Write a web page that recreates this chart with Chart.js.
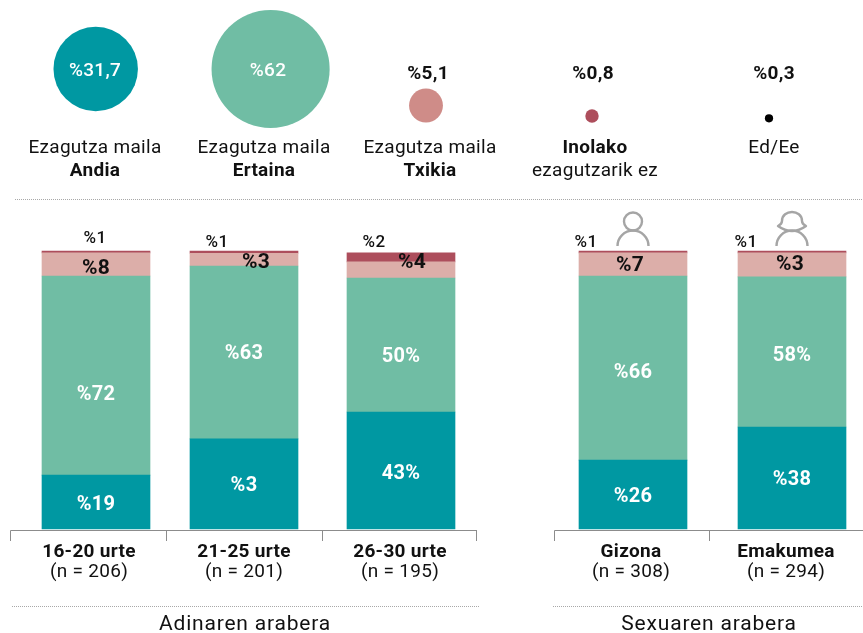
<!DOCTYPE html>
<html>
    <head>
        <meta charset="utf-8">
        <script src="https://cdn.jsdelivr.net/npm/chart.js@4"></script>
        <style>
            html, body { margin: 0; padding: 0; background: #fff; }
            canvas { display: block; }
        </style>
    </head>
    <body>
        <canvas id="myChart" width="863" height="633"></canvas>
    </body>
    <script type="text/javascript">
        // data
        var categories = ['16-20 urte', '21-25 urte', '26-30 urte', 'Gizona', 'Emakumea'];
        var sampleLabels = ['(n = 206)', '(n = 201)', '(n = 195)', '(n = 308)', '(n = 294)'];
        var andia = [19.4, 32.4, 42.1, 24.8, 36.7];
        var ertaina = [71.6, 62.2, 48.2, 66.2, 54];
        var txikia = [8.3, 4.6, 5.8, 8.3, 8.6];
        var inolako = [0.7, 0.8, 3.2, 0.7, 0.7];
        // printed labels, as they stand in the original
        var andiaLabels = ['%19', '%3', '43%', '%26', '%38'];
        var ertainaLabels = ['%72', '%63', '50%', '%66', '58%'];
        var txikiaLabels = ['%8', '%3', '%4', '%7', '%3'];
        var inolakoLabels = ['%1', '%1', '%2', '%1', '%1'];
        var totalShares = [31.7, 62, 5.1, 0.8, 0.3];
        var totalLabels = ['%31,7', '%62', '%5,1', '%0,8', '%0,3'];

        // layout
        var barCentres = [96, 244, 401, 633, 792];
        var bubbleX = [95.7, 270.6, 426, 592, 769];
        var bubbleY = [69, 69, 105.5, 116, 118.3];
        var pxPerPct = 2.78;
        var baseY = 529;
        var FONT = 'Roboto, sans-serif';
        var TEAL = '#0098a2', GREEN = '#70bda4', PINK = '#dcaea9', RED = '#ad4e5c';
        var GREY = '#8c8c8c';

        function barData(values) {
            return values.map(function (v, i) { return { x: barCentres[i], y: v }; });
        }

        function barSet(label, values, colour) {
            return {
                type: 'bar', label: label, data: barData(values), backgroundColor: colour,
                barThickness: 108, order: 2
            };
        }

        function text(ctx, str, x, y, size, weight, colour, spacing) {
            ctx.font = weight + ' ' + size + 'px ' + FONT;
            ctx.letterSpacing = (spacing === undefined ? 0.3 : spacing) + 'px';
            ctx.fillStyle = colour;
            ctx.textAlign = 'center';
            ctx.textBaseline = 'middle';
            ctx.fillText(str, x, y + 1);
        }

        function dotted(ctx, x1, x2, y) {
            ctx.save();
            ctx.strokeStyle = '#a8a8a8';
            ctx.lineWidth = 1;
            ctx.setLineDash([1, 1]);
            ctx.beginPath();
            ctx.moveTo(x1, y + 0.5);
            ctx.lineTo(x2, y + 0.5);
            ctx.stroke();
            ctx.restore();
        }

        function bracket(ctx, ticks, endX, y) {
            ctx.strokeStyle = GREY;
            ctx.lineWidth = 1;
            ctx.beginPath();
            ctx.moveTo(ticks[0] + 0.5, y + 11);
            ctx.lineTo(ticks[0] + 0.5, y + 0.5);
            ctx.lineTo(endX, y + 0.5);
            ticks.slice(1).forEach(function (t) {
                ctx.moveTo(t + 0.5, y + 0.5);
                ctx.lineTo(t + 0.5, y + 11);
            });
            ctx.stroke();
        }

        function manIcon(ctx, x) {
            ctx.strokeStyle = '#a5a5a5';
            ctx.lineWidth = 2.4;
            ctx.beginPath();
            ctx.arc(x, 221.5, 9, 0, Math.PI * 2);
            ctx.stroke();
            ctx.beginPath();
            ctx.arc(x, 246, 15.5, Math.PI, 0);
            ctx.stroke();
        }

        function womanIcon(ctx, x) {
            ctx.strokeStyle = '#a5a5a5';
            ctx.lineWidth = 2.4;
            ctx.lineJoin = 'round';
            ctx.beginPath();
            ctx.moveTo(x - 14, 226);
            ctx.quadraticCurveTo(x - 10, 224, x - 10, 221);
            ctx.bezierCurveTo(x - 10, 209, x + 10, 209, x + 10, 221);
            ctx.quadraticCurveTo(x + 10, 224, x + 14, 226);
            ctx.quadraticCurveTo(x, 236, x - 14, 226);
            ctx.closePath();
            ctx.stroke();
            ctx.beginPath();
            ctx.arc(x, 246, 15.5, Math.PI, 0);
            ctx.stroke();
        }

        var textPlugin = {
            id: 'chartText',
            afterDraw: function (chart) {
                var ctx = chart.ctx;
                ctx.save();

                // figures over and inside the bubbles
                text(ctx, totalLabels[0], 95, 70, 19, 500, '#fff');
                text(ctx, totalLabels[1], 268, 70, 19, 500, '#fff');
                text(ctx, totalLabels[2], 428, 73, 19, 700, '#111');
                text(ctx, totalLabels[3], 593, 73, 19, 700, '#111');
                text(ctx, totalLabels[4], 774, 73, 19, 700, '#111');

                // bubble captions
                text(ctx, 'Ezagutza maila', 95, 147, 19, 400, '#111');
                text(ctx, 'Andia', 95, 170, 19, 700, '#111');
                text(ctx, 'Ezagutza maila', 264, 147, 19, 400, '#111');
                text(ctx, 'Ertaina', 264, 170, 19, 700, '#111');
                text(ctx, 'Ezagutza maila', 430, 147, 19, 400, '#111');
                text(ctx, 'Txikia', 430, 170, 19, 700, '#111');
                text(ctx, 'Inolako', 595, 147, 19, 700, '#111');
                text(ctx, 'ezagutzarik ez', 595, 170, 19, 400, '#111');
                text(ctx, 'Ed/Ee', 774, 147, 19, 400, '#111');

                dotted(ctx, 15, 863, 199);
                dotted(ctx, 12, 479, 606);
                dotted(ctx, 553, 863, 606);

                // labels on the bars
                var andiaY = [504, 485, 473, 496, 479];
                var ertainaY = [394, 353, 356, 372, 355];
                var txikiaPos = [[96, 268], [256, 262], [412, 262], [630, 265], [790, 264]];
                var inolakoPos = [[95, 238], [217, 242], [374, 242], [586, 242], [746, 242]];
                categories.forEach(function (c, i) {
                    text(ctx, andiaLabels[i], barCentres[i], andiaY[i], 20, 700, '#fff');
                    text(ctx, ertainaLabels[i], barCentres[i], ertainaY[i], 20, 700, '#fff');
                    text(ctx, txikiaLabels[i], txikiaPos[i][0], txikiaPos[i][1], 21, 700, '#111');
                    text(ctx, inolakoLabels[i], inolakoPos[i][0], inolakoPos[i][1], 17, 500, '#111');
                });

                // axis brackets with their labels
                bracket(ctx, [10, 166, 322, 476], 477, 530);
                bracket(ctx, [554, 709], 863, 530);
                var catX = [89, 244, 400, 631, 786];
                categories.forEach(function (c, i) {
                    text(ctx, c, catX[i], 551, 19, 700, '#111');
                    text(ctx, sampleLabels[i], catX[i], 571, 19, 400, '#111');
                });
                text(ctx, 'Adinaren arabera', 245, 624, 21, 400, '#111', 0.8);
                text(ctx, 'Sexuaren arabera', 709, 624, 21, 400, '#111', 0.8);

                manIcon(ctx, 633);
                womanIcon(ctx, 792);
                ctx.restore();
            }
        };

        var ctx = document.getElementById('myChart').getContext('2d');
        var chart = new Chart(ctx, {
            data: {
                datasets: [
                    barSet('Andia', andia, TEAL),
                    barSet('Ertaina', ertaina, GREEN),
                    barSet('Txikia', txikia, PINK),
                    barSet('Inolako ezagutzarik ez', inolako, RED),
                    {
                        // area of each circle follows its share
                        type: 'bubble',
                        label: 'Guztira',
                        yAxisID: 'yTop',
                        order: 1,
                        clip: false,
                        data: totalShares.map(function (v, i) {
                            return { x: bubbleX[i], y: bubbleY[i], r: 7.5 * Math.sqrt(v) };
                        }),
                        backgroundColor: [TEAL, GREEN, '#cf8c88', RED, '#000000'],
                        borderWidth: 0
                    }
                ]
            },
            options: {
                responsive: false,
                animation: false,
                layout: { padding: 0, autoPadding: false },
                plugins: { legend: { display: false }, tooltip: { enabled: false } },
                scales: {
                    x: { type: 'linear', min: 0, max: 863, stacked: true, display: false, offset: false },
                    y: {
                        type: 'linear', stacked: true, display: false,
                        min: -(633 - baseY) / pxPerPct,
                        max: baseY / pxPerPct
                    },
                    yTop: { type: 'linear', min: 0, max: 633, reverse: true, display: false }
                }
            },
            plugins: [textPlugin]
        });
    </script>
</html>
